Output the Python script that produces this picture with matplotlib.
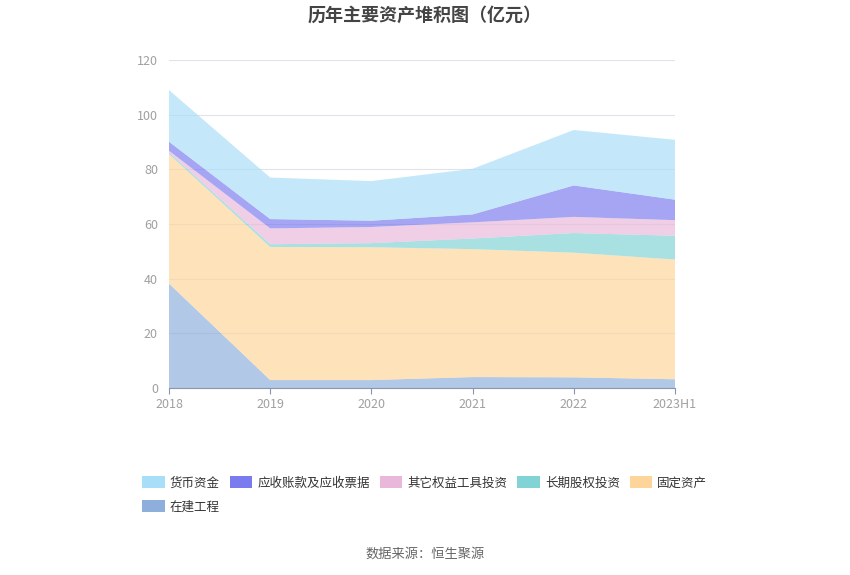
import matplotlib
matplotlib.use("Agg")
import matplotlib.pyplot as plt
import numpy as np

plt.rcParams['font.family'] = ['Noto Sans CJK SC', 'DejaVu Sans']

years = ['2018', '2019', '2020', '2021', '2022', '2023H1']
series_names = ['在建工程', '固定资产', '长期股权投资', '其它权益工具投资', '应收账款及应收票据', '货币资金']
zaijian = [38.2, 2.9, 2.9, 4.0, 3.9, 3.2]
guding = [47.4, 48.7, 48.6, 46.8, 45.6, 43.8]
changqi = [0.6, 1.0, 1.5, 3.9, 7.2, 8.7]
qita = [0.6, 5.8, 5.9, 5.9, 5.9, 5.7]
yingshou = [3.3, 3.4, 2.3, 2.9, 11.5, 7.5]
huobi = [18.9, 15.2, 14.5, 16.7, 20.3, 21.9]
colors = ['#8eaedc', '#fdd59a', '#81d3d6', '#e9b7d9', '#7b7bf0', '#a8def8']

fig = plt.figure(figsize=(8.5, 5.75), dpi=100)
ax = fig.add_axes([169/850, 1-388/575, (675-169)/850, (388-60)/575])
x = np.arange(len(years))
data = [zaijian, guding, changqi, qita, yingshou, huobi]
ax.stackplot(x, *data, colors=colors, alpha=0.68, linewidth=0, zorder=2)

ax.set_xlim(0, len(years)-1)
ax.set_ylim(0, 120)
ax.set_yticks(range(0, 121, 20))
ax.set_xticks(x)
ax.set_xticklabels(years)
ax.grid(axis='y', color='#e0e3ec', linewidth=0.8, zorder=1)
ax.set_axisbelow(True)
for s in ['top', 'right', 'left']:
    ax.spines[s].set_visible(False)
ax.spines['bottom'].set_color('#8a96ad')
ax.spines['bottom'].set_zorder(3)
ax.tick_params(axis='y', length=0, colors='#a0a0a0', labelsize=9, pad=8)
ax.tick_params(axis='x', length=4, color='#8a96ad', colors='#a0a0a0', labelsize=9)

fig.text(0.5, 1-15/575, '历年主要资产堆积图（亿元）', ha='center', va='center',
         fontsize=13, fontweight='bold', color='#444444')
fig.text(0.5, 1-554/575, '数据来源：恒生聚源', ha='center', va='center',
         fontsize=9.5, color='#666666')

# column-major fill so that rows read: 货币资金 应收... 其它... 长期... 固定资产 / 在建工程
order = [5, 0, 4, 3, 2, 1]
handles = [plt.Rectangle((0, 0), 1, 1, facecolor=colors[i], edgecolor='none') for i in order]
labels = [series_names[i] for i in order]
leg = fig.legend(handles, labels, ncol=5, loc='upper left',
                 bbox_to_anchor=(131/850, 1-465/575), frameon=False,
                 fontsize=9, handlelength=1.8, handleheight=1.1,
                 columnspacing=0.8, handletextpad=0.4, labelspacing=0.85)
for t in leg.get_texts():
    t.set_color('#333333')

fig.savefig('out.png', dpi=100)
